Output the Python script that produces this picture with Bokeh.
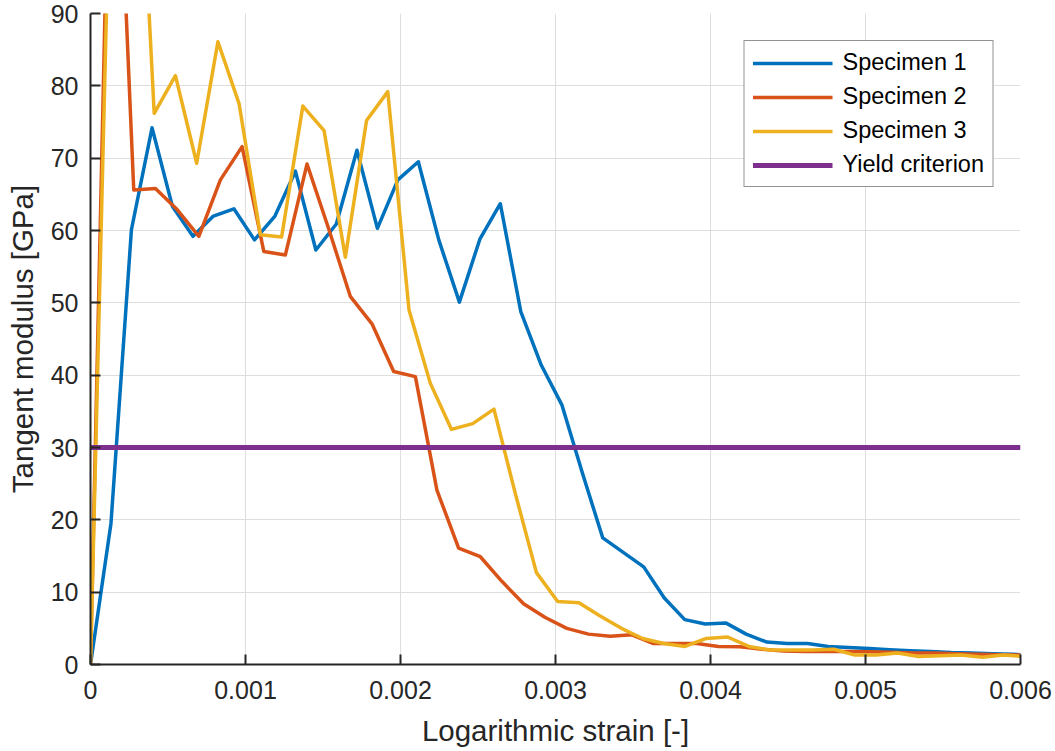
from bokeh.plotting import figure
from bokeh.models import Range1d, FixedTicker
from bokeh.embed import file_html
from bokeh.resources import INLINE

# ---------------- data ----------------
strain_1 = [0, 0.000132, 0.000264, 0.000397, 0.000529, 0.000661, 0.000793, 0.000925,
            0.001058, 0.001190, 0.001322, 0.001454, 0.001586, 0.001719, 0.001851, 0.001983,
            0.002115, 0.002247, 0.002380, 0.002512, 0.002644, 0.002776, 0.002908, 0.003041,
            0.003173, 0.003305, 0.003437, 0.003569, 0.003702, 0.003834, 0.003966, 0.004098,
            0.004230, 0.004363, 0.004495, 0.004627, 0.004759, 0.004891, 0.005024, 0.005156,
            0.005288, 0.005420, 0.005552, 0.005685, 0.005817, 0.005949, 0.006081]
modulus_1 = [0, 19.5, 60.1, 74.2, 63.3, 59.2, 62.0, 63.0, 58.7, 62.0, 68.2, 57.3, 60.9,
             71.1, 60.3, 67.0, 69.5, 58.7, 50.1, 58.8, 63.7, 48.8, 41.4, 35.9, 26.5, 17.5,
             15.5, 13.5, 9.2, 6.2, 5.6, 5.75, 4.2, 3.1, 2.9, 2.9, 2.5, 2.35, 2.2, 2.05, 1.9,
             1.8, 1.65, 1.6, 1.5, 1.4, 1.3]

strain_2 = [0, 0.000140, 0.000279, 0.000419, 0.000559, 0.000699, 0.000838, 0.000978,
            0.001118, 0.001257, 0.001397, 0.001537, 0.001676, 0.001816, 0.001956, 0.002096,
            0.002235, 0.002375, 0.002515, 0.002654, 0.002794, 0.002934, 0.003073, 0.003213,
            0.003353, 0.003493, 0.003632, 0.003772, 0.003912, 0.004051, 0.004191, 0.004331,
            0.004470, 0.004610, 0.004750, 0.004890, 0.005029, 0.005169, 0.005309, 0.005448,
            0.005588, 0.005728, 0.005867, 0.006007]
modulus_2 = [0, 135, 65.6, 65.8, 62.9, 59.2, 67.0, 71.6, 57.1, 56.6, 69.2, 60.2, 50.9,
             47.1, 40.5, 39.8, 24.1, 16.1, 14.9, 11.5, 8.4, 6.5, 5.0, 4.2, 3.9, 4.1, 2.9,
             2.9, 2.9, 2.5, 2.45, 2.1, 1.85, 1.8, 1.8, 1.8, 1.75, 1.7, 1.6, 1.6, 1.5, 1.4,
             1.35, 1.3]

strain_3 = [0, 0.000137, 0.000274, 0.000411, 0.000548, 0.000685, 0.000822, 0.000959,
            0.001096, 0.001233, 0.001370, 0.001507, 0.001644, 0.001781, 0.001918, 0.002055,
            0.002192, 0.002329, 0.002466, 0.002603, 0.002740, 0.002877, 0.003014, 0.003151,
            0.003288, 0.003425, 0.003562, 0.003699, 0.003836, 0.003973, 0.004110, 0.004247,
            0.004384, 0.004521, 0.004658, 0.004795, 0.004932, 0.005069, 0.005206, 0.005343,
            0.005480, 0.005617, 0.005754, 0.005891, 0.006028]
modulus_3 = [0, 120, 133.5, 76.2, 81.4, 69.3, 86.1, 77.5, 59.4, 59.1, 77.2, 73.8, 56.3,
             75.2, 79.2, 49.0, 38.9, 32.5, 33.3, 35.3, 23.7, 12.7, 8.7, 8.55, 6.7, 5.0, 3.6,
             2.9, 2.5, 3.6, 3.8, 2.5, 2.0, 2.0, 2.0, 2.1, 1.3, 1.3, 1.6, 1.1, 1.2, 1.3, 1.0,
             1.3, 1.1]

yield_strain = [0, 0.006]
yield_modulus = [30, 30]

series_names = ["Specimen 1", "Specimen 2", "Specimen 3", "Yield criterion"]

x_ticks = [0, 0.001, 0.002, 0.003, 0.004, 0.005, 0.006]
x_tick_labels = ["0", "0.001", "0.002", "0.003", "0.004", "0.005", "0.006"]
y_ticks = [0, 10, 20, 30, 40, 50, 60, 70, 80, 90]
y_tick_labels = ["0", "10", "20", "30", "40", "50", "60", "70", "80", "90"]

# ---------------- styling ----------------
FONT = "Liberation Sans"
TXT = "#262626"
colors = ["#0072BD", "#D95319", "#EDB120", "#7E2F8E"]

p = figure(width=1055, height=751, output_backend="svg", toolbar_location=None,
           x_range=Range1d(0, 0.006), y_range=Range1d(0, 90),
           min_border_left=90, min_border_right=35, min_border_top=13,
           min_border_bottom=87)
p.outline_line_color = None
p.background_fill_color = "white"
p.border_fill_color = "white"

for xs, ys, c, name in [(strain_1, modulus_1, colors[0], series_names[0]),
                        (strain_2, modulus_2, colors[1], series_names[1]),
                        (strain_3, modulus_3, colors[2], series_names[2])]:
    p.line(xs, ys, line_color=c, line_width=3.5, line_join="round", legend_label=name)
p.line(yield_strain, yield_modulus, line_color=colors[3], line_width=5,
       legend_label=series_names[3])

xt = FixedTicker(ticks=x_ticks)
yt = FixedTicker(ticks=y_ticks)
p.xaxis.ticker = xt
p.yaxis.ticker = yt
p.xgrid.ticker = xt
p.ygrid.ticker = yt
p.xaxis.major_label_overrides = dict(zip(x_ticks, x_tick_labels))
p.yaxis.major_label_overrides = dict(zip(y_ticks, y_tick_labels))

for ax in (p.xaxis[0], p.yaxis[0]):
    ax.axis_line_color = TXT
    ax.axis_line_width = 2
    ax.major_tick_line_color = TXT
    ax.major_tick_line_width = 2
    ax.major_tick_in = 10
    ax.major_tick_out = 0
    ax.minor_tick_line_color = None
    ax.major_label_text_font = FONT
    ax.major_label_text_font_size = "25px"
    ax.major_label_text_color = TXT
    ax.axis_label_text_font = FONT
    ax.axis_label_text_font_size = "29.5px"
    ax.axis_label_text_font_style = "normal"
    ax.axis_label_text_color = TXT

p.xaxis.axis_label = "Logarithmic strain [-]"
p.yaxis.axis_label = "Tangent modulus [GPa]"
p.xaxis.major_label_standoff = 16
p.yaxis.major_label_standoff = 12
p.xaxis.axis_label_standoff = 12
p.yaxis.axis_label_standoff = 9

for g in (p.xgrid[0], p.ygrid[0]):
    g.grid_line_color = "#dedede"
    g.grid_line_width = 1

lg = p.legend[0]
lg.location = "top_right"
lg.margin = 27
lg.padding = 8
lg.spacing = 7
lg.glyph_width = 80
lg.glyph_height = 26
lg.label_height = 26
lg.label_standoff = 10
lg.label_text_font = FONT
lg.label_text_font_size = "23.5px"
lg.label_text_color = "black"
lg.border_line_color = TXT
lg.border_line_width = 1
lg.background_fill_color = "white"
lg.background_fill_alpha = 1.0

open("out.html", "w").write(file_html(p, INLINE))
